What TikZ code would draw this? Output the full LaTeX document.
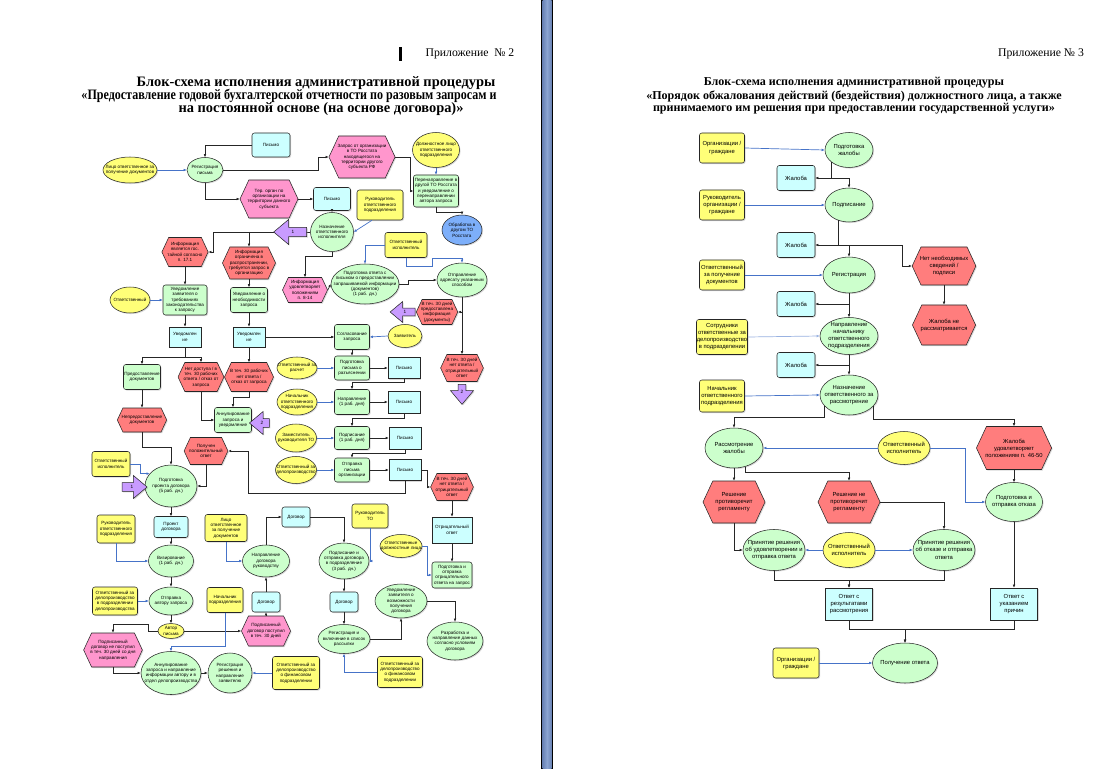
\documentclass[tikz,border=0pt]{standalone}
\usepackage{fontspec}
\setmainfont{Liberation Serif}
\setsansfont{Liberation Sans}
\usetikzlibrary{shapes.geometric,shapes.symbols,shapes.arrows,arrows.meta,calc,shadows}

\definecolor{yel}{RGB}{255,255,120}
\definecolor{grn}{RGB}{204,255,204}
\definecolor{cyn}{RGB}{204,255,255}
\definecolor{pnk}{RGB}{255,150,205}
\definecolor{rd}{RGB}{255,125,125}
\definecolor{blu}{RGB}{125,175,250}
\definecolor{lil}{RGB}{200,155,255}
\definecolor{lnblue}{RGB}{70,115,200}
\definecolor{barmid}{RGB}{140,165,210}
\definecolor{baredge}{RGB}{105,130,180}

\tikzset{
  sz/.style 2 args={minimum width=#1*0.03cm, minimum height=#2*0.03cm},
  blk/.style={draw=black!85, line width=0.45pt, align=center, inner xsep=-1pt, inner ysep=0pt,
    drop shadow={shadow xshift=0.9pt, shadow yshift=-0.9pt, opacity=0.3}},
  actor/.style={blk, ellipse, fill=yel, inner xsep=-9pt, inner ysep=-6pt},
  actorbox/.style={blk, rounded corners=2pt, fill=yel},
  func/.style={blk, ellipse, fill=grn, inner xsep=-9pt, inner ysep=-6pt},
  funcbox/.style={blk, rounded corners=2pt, fill=grn},
  doc/.style={blk, fill=cyn},
  docr/.style={doc, rounded corners=2pt},
  event/.style={blk, signal, signal to=east and west, signal pointer angle=130, fill=rd},
  eventpink/.style={event, fill=pnk},
  refarrow/.style={blk, single arrow, fill=lil, single arrow head extend=3.5pt,
    single arrow tip angle=80, inner sep=0.5pt, font=\sffamily\fontsize{4}{4}\selectfont},
  conn/.style={draw=black!85, line width=0.6pt, -{Latex[length=2.6pt,width=2.3pt]}},
  info/.style={conn, draw=lnblue},
}

\begin{document}
\begin{tikzpicture}[x=0.03cm, y=-0.03cm]
  \useasboundingbox (0,0) rectangle (1100,769);
  \fill[white] (0,0) rectangle (1100,769);
  % divider between the two pages
  \fill[black] (541,0) rectangle (553,769);
  \shade[left color=baredge, right color=baredge, middle color=barmid] (542.5,0) rectangle (551.5,769);

  % ---------- headers ----------
  \fill (399,47) rectangle (402,61);
  \node[font=\fontsize{10}{12}\selectfont] (app2) at (470,54) {Приложение\ \ №~2};
  \node[font=\bfseries\fontsize{12.3}{14}\selectfont] (t2a) at (316,83) {Блок-схема исполнения административной процедуры};
  \node[font=\bfseries\fontsize{12.3}{14}\selectfont] (t2b) at (289,96) {\scalebox{0.836}[1]{«Предоставление годовой бухгалтерской отчетности по разовым запросам и}};
  \node[font=\bfseries\fontsize{12.3}{14}\selectfont] (t2c) at (321,109) {на постоянной основе (на основе договора)»};

  \node[font=\fontsize{10}{12}\selectfont] (app3) at (1041,54) {Приложение №~3};
  \node[font=\bfseries\fontsize{10.3}{12}\selectfont] (t3a) at (854,83) {Блок-схема исполнения административной процедуры};
  \node[font=\bfseries\fontsize{10.3}{12}\selectfont] (t3b) at (854,96) {«Порядок обжалования действий (бездействия) должностного лица, а также};
  \node[font=\bfseries\fontsize{10.3}{12}\selectfont] (t3c) at (854,109) {принимаемого им решения при предоставлении государственной услуги»};

  % ---------- Приложение 2 ----------
  \begin{scope}[font=\sffamily\fontsize{3.9}{4.6}\selectfont]
    \node[actor, sz={54}{26}] (lico) at (130,170) {Лицо ответственное за\\получение документов};
    \node[func, sz={36}{25}] (reg) at (205,170) {Регистрация\\письма};
    \node[docr, sz={38}{24}] (pismo1) at (271,145) {Письмо};
    \node[eventpink, sz={59}{42}] (zapros) at (362,157) {Запрос от организации\\в ТО Росстата\\находящегося на\\территории другого\\субъекта РФ};
    \node[eventpink, sz={58}{38}] (terorg) at (269,199) {Тер. орган по\\организации на\\территории данного\\субъекта};
    \node[actor, sz={47}{35}] (dolzh) at (436,150) {Должностное лицо\\ответственного\\подразделения};
    \node[funcbox, sz={45}{32}] (pereadr) at (436,191) {Перенаправление в\\другой ТО Росстата\\и уведомление о\\перенаправлении\\автора запроса};
    \node[blk, ellipse, fill=blu, sz={40}{30}, inner xsep=-9pt, inner ysep=-6pt] (obrab) at (462,230) {Обработка в\\другом ТО\\Росстата};
    \node[docr, sz={37}{23}] (pismo2) at (332,199) {Письмо};
    \node[actorbox, sz={46}{30}] (rukotv) at (380,205) {Руководитель\\ответственного\\подразделения};
    \node[func, sz={43}{39}] (naznach) at (332,232) {Назначение\\ответственного\\исполнителя};
    \node[event, sz={40}{29}] (gostaina) at (185,252) {Информация\\является гос.\\тайной согласно\\п. 17.1};
    \node[event, sz={42}{32}] (ogranich) at (249,263) {Информация\\ограничена в\\распространении,\\требуется запрос в\\организацию};
    \node[actorbox, sz={42}{25}] (otvisp1) at (406,245) {Ответственный\\исполнитель};
    \node[eventpink, sz={45}{25}] (udovl) at (305,290) {Информация\\удовлетворяет\\положениям\\п. 8-14};
    \node[func, sz={68}{40}] (podgotv) at (365,284) {Подготовка ответа с\\письмом о предоставлении\\запрашиваемой информации\\(документов)\\(1 раб. дн.)};
    \node[func, sz={50}{34}] (otprav) at (462,280) {Отправление\\адресату указанным\\способом};
    \node[event, sz={39}{25}] (predost) at (437,312) {В теч. 30 дней\\предоставлена\\информация\\(документы)};
    \node[actor, sz={34}{23}] (zayav) at (405,336) {Заявитель};
    \node[event, sz={40}{27}] (netotv1) at (462,368) {В теч. 30 дней\\нет ответа /\\отрицательный\\ответ};

    \node[actor, sz={40}{26}] (otv2) at (130,300) {Ответственный};
    \node[funcbox, sz={44}{30}] (uvedtreb) at (185,300) {Уведомление\\заявителя о\\требованиях\\законодательства\\к запросу};
    \node[funcbox, sz={37}{25}] (uvedneobh) at (249,300) {Уведомление о\\необходимости\\запроса};
    \node[doc, sz={32}{20}] (uved1) at (185,337) {Уведомлен\\ие};
    \node[doc, sz={32}{20}] (uved2) at (249,337) {Уведомлен\\ие};
    \node[funcbox, sz={37}{25}] (predostdoc) at (142,377) {Предоставление\\документов};
    \node[event, sz={40}{29}] (netdost) at (201,377) {Нет доступа / в\\теч. 30 рабочих\\ответа / отказ от\\запроса};
    \node[event, sz={40}{29}] (netotv2) at (249,377) {В теч. 30 рабочих\\нет ответа /\\отказ от запроса};
    \node[actor, sz={40}{22}] (otvras) at (297,368) {Ответственный за\\расчет};
    \node[actor, sz={40}{26}] (nachotv) at (297,402) {Начальник\\ответственного\\подразделения};
    \node[funcbox, sz={35}{25}] (soglas) at (352,337) {Согласование\\запроса};
    \node[funcbox, sz={35}{24}] (podgpis) at (352,368) {Подготовка\\письма о\\разъяснении};
    \node[doc, sz={32}{21}] (pismo3) at (404,368) {Письмо};
    \node[funcbox, sz={35}{25}] (naprav) at (352,402) {Направление\\(1 раб. дня)};
    \node[doc, sz={32}{22}] (pismo4) at (404,402) {Письмо};
    \node[event, sz={38}{24}] (nepodtv) at (142,420) {Непредоставление\\документов};
    \node[funcbox, sz={37}{25}] (annul1) at (233,420) {Аннулирование\\запроса и\\уведомление};
    \node[actor, sz={41}{28}] (zamruk) at (296,438) {Заместитель\\руководителя ТО};
    \node[funcbox, sz={35}{23}] (podpis) at (352,438) {Подписание\\(1 раб. дня)};
    \node[doc, sz={32}{22}] (pismo5) at (405,438) {Письмо};
    \node[actor, sz={41}{27}] (otvdelo1) at (296,470) {Ответственный за\\делопроизводство};
    \node[funcbox, sz={35}{24}] (otpravpis) at (352,470) {Отправка\\письма\\организации};
    \node[doc, sz={32}{21}] (pismo6) at (405,470) {Письмо};
    \node[event, sz={40}{27}] (netotv3) at (452,487) {В теч. 30 дней\\нет ответа /\\отрицательный\\ответ};
    \node[event, sz={38}{27}] (poluchpol) at (206,451) {Получен\\положительный\\ответ};
    \node[actorbox, sz={38}{25}] (otvisp2) at (111,464) {Ответственный\\исполнитель};
    \node[func, sz={52}{42}] (proekt) at (171,486) {Подготовка\\проекта договора\\(5 раб. дн.)};
    \node[doc, sz={40}{26}] (otric) at (452,530) {Отрицательный\\ответ};
    \node[actorbox, sz={36}{24}] (rukto) at (370,516) {Руководитель\\ТО};
    \node[docr, sz={28}{20}] (dogovor1) at (296,517) {Договор};
    \node[docr, sz={34}{21}] (proektdoc) at (171,527) {Проект\\договора};
    \node[actorbox, sz={38}{28}] (rukotv2) at (116,529) {Руководитель\\ответственного\\подразделения};
    \node[actorbox, sz={42}{27}] (licopol) at (226,528) {Лицо\\ответственное\\за получение\\документов};
    \node[func, sz={50}{36}] (podpotpr) at (344,561) {Подписание и\\отправка договора\\в подразделение\\(3 раб. дн.)};
    \node[actor, sz={42}{23}] (otvdolzh) at (401,546) {Ответственные\\должностные лица};
    \node[funcbox, sz={40}{26}] (podgotric) at (452,575) {Подготовка и\\отправка\\отрицательного\\ответа на запрос};
    \node[func, sz={45}{32}] (viz) at (171,561) {Визирование\\(1 раб. дн.)};
    \node[func, sz={47}{32}] (naprruk) at (266,561) {Направление\\договора\\руководству};
    \node[func, sz={44}{28}] (otpravavt) at (171,601) {Отправка\\автору запроса};
    \node[actorbox, sz={45}{28}] (otvdelo2) at (115,601) {Ответственный за\\делопроизводство\\в подразделении\\делопроизводства};
    \node[actorbox, sz={36}{25}] (nachpodr) at (225,600) {Начальник\\подразделения};
    \node[docr, sz={28}{20}] (dogovor2) at (266,602) {Договор};
    \node[actor, sz={26}{15}] (avtor) at (171,631) {Автор\\письма};
    \node[eventpink, sz={45}{34}] (podpnet) at (113,650) {Подписанный\\договор не поступил\\в теч. 30 дней со дня\\направления};
    \node[eventpink, sz={45}{30}] (podpda) at (266,631) {Подписанный\\договор поступил\\в теч. 30 дней};
    \node[func, sz={60}{43}] (annul2) at (171,673) {Аннулирование\\запроса и направление\\информации автору и в\\отдел делопроизводства};
    \node[func, sz={44}{40}] (regresh) at (230,673) {Регистрация\\решения и\\направление\\заявителю};
    \node[actorbox, sz={47}{33}] (otvfin1) at (296,673) {Ответственный за\\делопроизводство\\о финансовом\\подразделении};
    \node[docr, sz={28}{20}] (dogovor3) at (344,602) {Договор};
    \node[func, sz={52}{29}] (regvkl) at (344,639) {Регистрация и\\включение в список\\рассылки};
    \node[func, sz={52}{34}] (uvedvoz) at (401,601) {Уведомление\\заявителя о\\возможности\\получения\\договора};
    \node[func, sz={56}{38}] (razrab) at (455,641) {Разработка и\\направление данных\\согласно условиям\\договора};
    \node[actorbox, sz={45}{31}] (otvfin2) at (400,672) {Ответственный за\\делопроизводство\\о финансовом\\подразделении};

    % connectors
    \coordinate (br1) at (213,232);
    \coordinate (tp1) at (248,493);
    \draw[info] (lico.east) -- (reg.west);
    \draw[conn] (pismo1.west) -| (reg.north);
    \draw[conn] (reg.east) -| ($(zapros.west)+(-10,0)$) -- (zapros.west);
    \draw[conn] (reg.south) |- (terorg.west);
    \draw[conn] (terorg.east) -- (pismo2.west);
    \draw[conn] (pismo2.south) -- (naznach.north);
    \draw[info] ($(rukotv.south)+(-8,0)$) -- (naznach.east);
    \draw[conn] (naznach.west) -- (br1) |- (gostaina.east);
    \draw[conn] (br1 -| ogranich.north) -- (ogranich.north);
    \draw[conn] (naznach.south) -- ++(0,5) -| (udovl.north);
    \draw[conn] (zapros.east) -- ++(15,0) |- (pereadr.west);
    \draw[info] (dolzh.south) -- (pereadr.north);
    \draw[conn] (pereadr.south) -- ++(0,5) -| (obrab.north);
    \draw[info] (otvisp1.west) -| (podgotv.north);
    \draw[info] (otvisp1.south) -- ++(0,9) -- ++(26,0) -- ++(0,-8) -| (otprav.north);
    \draw[conn] (udovl.east) -- (podgotv.west);
    \draw[conn] (podgotv.east) -- ++(9,0) |- (otprav.west);
    \draw[conn] (otprav.south) -- (netotv1.north);
    \draw[conn] (otprav.south |- predost.east) -- (predost.east);
    \draw[info] (zayav.west) -- (soglas.east);
    \draw[conn] (uved2.east) -- (soglas.west);
    \draw[conn] (soglas.south) -- (podgpis.north);
    \draw[conn] (podgpis.east) -- (pismo3.west);
    \draw[conn] (pismo3.south) -- ++(0,4) -| (naprav.north);
    \draw[info] (otvras.east) -- (podgpis.west);
    \draw[info] (nachotv.east) -- (naprav.west);
    \draw[conn] (naprav.east) -- (pismo4.west);
    \draw[conn] (pismo4.south) -- ++(0,5) -| (podpis.north);
    \draw[info] (zamruk.east) -- (podpis.west);
    \draw[conn] (podpis.east) -- (pismo5.west);
    \draw[conn] (pismo5.south) -- ++(0,4) -| (otpravpis.north);
    \draw[info] (otvdelo1.east) -- (otpravpis.west);
    \draw[conn] (otpravpis.east) -- (pismo6.west);
    \draw[conn] (pismo6.east) -- ++(6,0) |- (netotv3.west);
    \draw[conn] (pismo6.south) |- (tp1) |- (poluchpol.east);
    \draw[conn] (netotv3.south) -- (otric.north);
    \draw[conn] (otric.south) -- (podgotric.north);
    \draw[conn] (poluchpol.south) |- (proekt.east);
    \draw[conn] (gostaina.south) -- (uvedtreb.north);
    \draw[conn] (ogranich.south) -- (uvedneobh.north);
    \draw[info] (otv2.east) -- (uvedtreb.west);
    \draw[conn] (uvedtreb.south) -- (uved1.north);
    \draw[conn] (uvedneobh.south) -- (uved2.north);
    \draw[conn] (uved1.south) -- ++(0,10) -| (predostdoc.north);
    \draw[conn] (uved1.south) -- ++(0,10) -| (netdost.north);
    \draw[conn] (uved2.south) -- (netotv2.north);
    \draw[conn] (netotv2.south) -- ++(0,6) -| (annul1.north);
    \draw[conn] (netdost.south) |- (annul1.west);
    \draw[conn] (predostdoc.south) -- (nepodtv.north);
    \draw[conn] (nepodtv.south) -- ++(0,15) -| (proekt.north);
    \draw[info] (otvisp2.east) -- ++(10,0) |- (proekt.150);
    \draw[conn] (proekt.south) -- (proektdoc.north);
    \draw[conn] (proektdoc.south) -- (viz.north);
    \draw[info] (rukotv2.south) |- (viz.west);
    \draw[conn] (viz.south) -- (otpravavt.north);
    \draw[info] (otvdelo2.east) -- (otpravavt.west);
    \draw[conn] (otpravavt.south) -- (avtor.north);
    \draw[conn] (avtor.east) -- (podpda.west);
    \draw[conn] (avtor.west) -| ++(-9,-7) -| (podpnet.north);
    \draw[conn] (podpnet.south) |- (annul2.west);
    \draw[info] (nachpodr.south) -- ++(0,34) -| (annul2.north);
    \draw[conn] (annul2.east) -- (regresh.west);
    \draw[info] (otvfin1.west) -- (regresh.east);
    \draw[conn] (podpda.north) -- (dogovor2.south);
    \draw[conn] (dogovor2.north) -- (naprruk.south);
    \draw[info] (licopol.south) |- (naprruk.west);
    \draw[conn] (naprruk.north) |- (dogovor1.west);
    \draw[conn] (dogovor1.east) -| (podpotpr.north);
    \draw[info] (rukto.south) |- (podpotpr.east);
    \draw[info] (otvdolzh.east) -- ++(5,0) |- (podgotric.west);
    \draw[conn] (podpotpr.south) -- (dogovor3.north);
    \draw[conn] (dogovor3.south) -- (regvkl.north);
    \draw[info] (otvfin2.west) -| (regvkl.south);
    \draw[conn] (regvkl.east) -| (uvedvoz.south);
    \draw[conn] (uvedvoz.east) -| (razrab.north);

    % purple references
    \node[refarrow, shape border rotate=180, minimum height=33*0.03cm, minimum width=25*0.03cm] (ref1a) at (293,232) {1};
    \node[refarrow, shape border rotate=180, minimum height=25*0.03cm, minimum width=21*0.03cm] (ref1b) at (405,312) {1};
    \node[refarrow, shape border rotate=270, minimum height=20*0.03cm, minimum width=23*0.03cm] (ref2a) at (462,392) {2};
    \node[refarrow, shape border rotate=180, minimum height=20*0.03cm, minimum width=23*0.03cm] (ref2b) at (262,423) {2};
    \node[refarrow, minimum height=25*0.03cm, minimum width=23*0.03cm] (ref1c) at (132,487) {1};
  \end{scope}

  % ---------- Приложение 3 ----------
  \begin{scope}[font=\sffamily\fontsize{5}{6}\selectfont]
    \node[actorbox, sz={45}{30}] (org1) at (722,148) {Организации /\\граждане};
    \node[func, sz={48}{35}] (podzh) at (849,150) {Подготовка\\жалобы};
    \node[docr, sz={38}{25}] (zh1) at (796,178) {Жалоба};
    \node[actorbox, sz={45}{30}] (ruk) at (722,205) {Руководитель\\организации /\\граждане};
    \node[func, sz={48}{34}] (podp) at (849,205) {Подписание};
    \node[docr, sz={38}{25}] (zh2) at (796,245) {Жалоба};
    \node[event, sz={55}{38}] (netsv) at (944,266) {Нет необходимых\\сведений /\\подписи};
    \node[event, sz={57}{40}] (nerasm) at (944,325) {Жалоба не\\рассматривается};
    \node[actorbox, sz={45}{30}] (otvpol) at (722,275) {Ответственный\\за получение\\документов};
    \node[func, sz={52}{36}] (regr) at (849,275) {Регистрация};
    \node[docr, sz={38}{25}] (zh3) at (796,304) {Жалоба};
    \node[actorbox, sz={51}{35}] (sotr) at (722,337) {Сотрудники\\ответственные за\\делопроизводство\\в подразделении};
    \node[func, sz={58}{37}] (naprnach) at (849,336) {Направление\\начальнику\\ответственного\\подразделения};
    \node[docr, sz={38}{25}] (zh4) at (796,365) {Жалоба};
    \node[actorbox, sz={45}{32}] (nachr) at (722,396) {Начальник\\ответственного\\подразделения};
    \node[func, sz={58}{40}] (naznr) at (849,395) {Назначение\\ответственного за\\рассмотрение};
    \node[func, sz={58}{40}] (rasm) at (734,448) {Рассмотрение\\жалобы};
    \node[actor, sz={52}{33}] (otvispr1) at (904,448) {Ответственный\\исполнитель};
    \node[event, sz={62}{43}] (udovr) at (1014,448) {Жалоба\\удовлетворяет\\положениям п. 46-50};
    \node[func, sz={57}{39}] (podgotk) at (1014,502) {Подготовка и\\отправка отказа};
    \node[event, sz={62}{42}] (protiv) at (734,502) {Решение\\противоречит\\регламенту};
    \node[event, sz={62}{42}] (neprotiv) at (849,502) {Решение не\\противоречит\\регламенту};
    \node[func, sz={62}{41}] (prinud) at (774,550) {Принятие решения\\об удовлетворении и\\отправка ответа};
    \node[actor, sz={52}{35}] (otvispr2) at (849,550) {Ответственный\\исполнитель};
    \node[func, sz={62}{41}] (prinotk) at (944,550) {Принятие решения\\об отказе и отправка\\ответа};
    \node[doc, sz={47}{32}] (otvres) at (849,604) {Ответ с\\результатами\\рассмотрения};
    \node[doc, sz={47}{32}] (otvprich) at (1014,604) {Ответ с\\указанием\\причин};
    \node[func, sz={65}{40}] (poluch) at (905,663) {Получение ответа};
    \node[actorbox, sz={46}{30}] (org2) at (796,663) {Организации /\\граждане};

    % connectors
    \coordinate (j1) at (podzh.215 |- zh1.east);
    \coordinate (j2) at (podp.235 |- zh2.east);
    \coordinate (j3) at (regr.south |- zh3.east);
    \coordinate (j4) at (naprnach.south |- zh4.east);
    \draw[info] (org1.east) -- (podzh.west);
    \draw[conn] (podzh.215) -- (j1) -- (zh1.east);
    \draw[conn] (j1) -| (podp.north);
    \draw[info] (ruk.east) -- (podp.west);
    \draw[conn] (podp.235) -- (j2) -- (zh2.east);
    \draw[conn] (j2) -| (regr.north);
    \draw[conn] (j2) -| ($(netsv.west)+(-10,0)$) -- (netsv.west);
    \draw[conn] (netsv.south) -- (nerasm.north);
    \draw[info] (otvpol.east) -- (regr.west);
    \draw[conn] (regr.south) -- (j3) -- (zh3.east);
    \draw[conn] (j3) -- (naprnach.north);
    \draw[info, draw=lnblue!55] (sotr.east) -- (naprnach.west);
    \draw[conn] (naprnach.south) -- (j4) -- (zh4.east);
    \draw[conn] (j4) -- (naznr.north);
    \draw[info] (nachr.east) -- (naznr.west);
    \draw[conn] (naznr.205) |- ($(rasm.north)+(0,-10)$) -- (rasm.north);
    \draw[conn] (naznr.-25) |- ($(udovr.north)+(0,-7)$) -- (udovr.north);
    \draw[info] (otvispr1.west) -- (rasm.east);
    \draw[info] (otvispr1.east) -- ++(35,0) |- (podgotk.west);
    \draw[conn] (udovr.south) -- (podgotk.north);
    \draw[conn] (rasm.south) -- (protiv.north);
    \draw[conn] (rasm.-60) -- ++(0,6) -| (neprotiv.north);
    \draw[conn] (protiv.south) |- (prinud.west);
    \draw[conn] (neprotiv.east) -| (prinotk.north);
    \draw[info] (otvispr2.west) -- (prinud.east);
    \draw[info] (otvispr2.east) -- (prinotk.west);
    \draw[conn] (prinud.south) -- ++(0,10) -| (otvres.north);
    \draw[conn] (prinotk.south) -- ++(0,10) -| (otvres.north);
    \draw[conn] (podgotk.south) -- (otvprich.north);
    \draw[conn] (otvres.south) -- ++(0,9) -| (poluch.north);
    \draw[conn] (otvprich.south) -- ++(0,9) -| (poluch.north);
    \draw[info] (org2.east) -- (poluch.west);
  \end{scope}
\end{tikzpicture}
\end{document}
